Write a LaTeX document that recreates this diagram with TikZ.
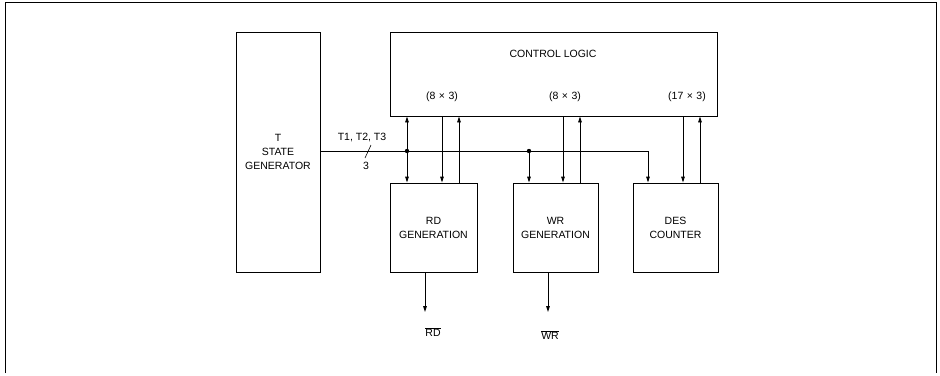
\documentclass[tikz,border=0pt]{standalone}
\usepackage{fontspec}
\setmainfont{Liberation Sans}
\usetikzlibrary{arrows.meta}
\begin{document}
\begin{tikzpicture}[x=1pt,y=-1pt,line width=0.9pt,
  blk/.style={draw,line width=0.9pt,inner sep=0pt,align=center,font=\fontsize{10.5}{14}\selectfont},
  lbl/.style={inner sep=0pt,font=\fontsize{10.5}{13}\selectfont},
  arr/.style={-{Triangle[length=6pt,width=3.6pt]}},
  darr/.style={{Triangle[length=6pt,width=3.6pt]}-{Triangle[length=6pt,width=3.6pt]}}]
\useasboundingbox (0,0) rectangle (940,375);
% frame
\draw (5,373) -- (5,2) -- (936,2) -- (936,373);
% blocks
\node[blk,minimum width=84pt,minimum height=240pt] (tsg) at (278,152) {T\\STATE\\GENERATOR};
\node[blk,minimum width=327pt,minimum height=84pt] (cl) at (553.5,74) {};
\node[lbl] (cltxt) at (553,54) {CONTROL LOGIC};
\node[lbl] (m1) at (442,97) {(8\,\,×\,\,3)};
\node[lbl] (m2) at (565,97) {(8\,\,×\,\,3)};
\node[lbl] (m3) at (687,97) {(17\,\,×\,\,3)};
\node[blk,minimum width=87pt,minimum height=89pt] (rd) at (433.5,227.5) {RD\\GENERATION};
\node[blk,minimum width=85pt,minimum height=89pt] (wr) at (555.5,227.5) {WR\\GENERATION};
\node[blk,minimum width=85pt,minimum height=89pt] (des) at (675.5,227.5) {DES\\COUNTER};
% bus
\coordinate (d1) at (407,151);
\coordinate (d2) at (529,151);
\coordinate (bc) at (648,151);
\draw[arr] (tsg.east |- d1) -- (bc) -- (bc |- des.north);
\fill (d1) circle (2.2pt);
\fill (d2) circle (2.2pt);
\node[lbl] (tlab) at (362,138) {T1, T2, T3};
\node[lbl] (tn) at (366,166) {3};
\draw[line width=0.6pt] (365,158) -- (371,145);
% RD connections
\draw[darr] (d1 |- cl.south) -- (d1 |- rd.north);
\draw[arr] (442,0 |- cl.south) -- (442,0 |- rd.north);
\draw[arr] (459,0 |- rd.north) -- (459,0 |- cl.south);
% WR connections
\draw[arr] (d2) -- (d2 |- wr.north);
\draw[arr] (563,0 |- cl.south) -- (563,0 |- wr.north);
\draw[arr] (580,0 |- wr.north) -- (580,0 |- cl.south);
% DES connections
\draw[arr] (683,0 |- cl.south) -- (683,0 |- des.north);
\draw[arr] (700,0 |- des.north) -- (700,0 |- cl.south);
% outputs
\coordinate (ro) at (425,312);
\coordinate (wo) at (548,312);
\draw[arr] (ro |- rd.south) -- (ro);
\draw[arr] (wo |- wr.south) -- (wo);
\node[lbl] (rdn) at (433,332) {$\overline{\hbox{RD}}$};
\node[lbl] (wrn) at (550,335) {$\overline{\hbox{WR}}$};
\end{tikzpicture}
\end{document}
